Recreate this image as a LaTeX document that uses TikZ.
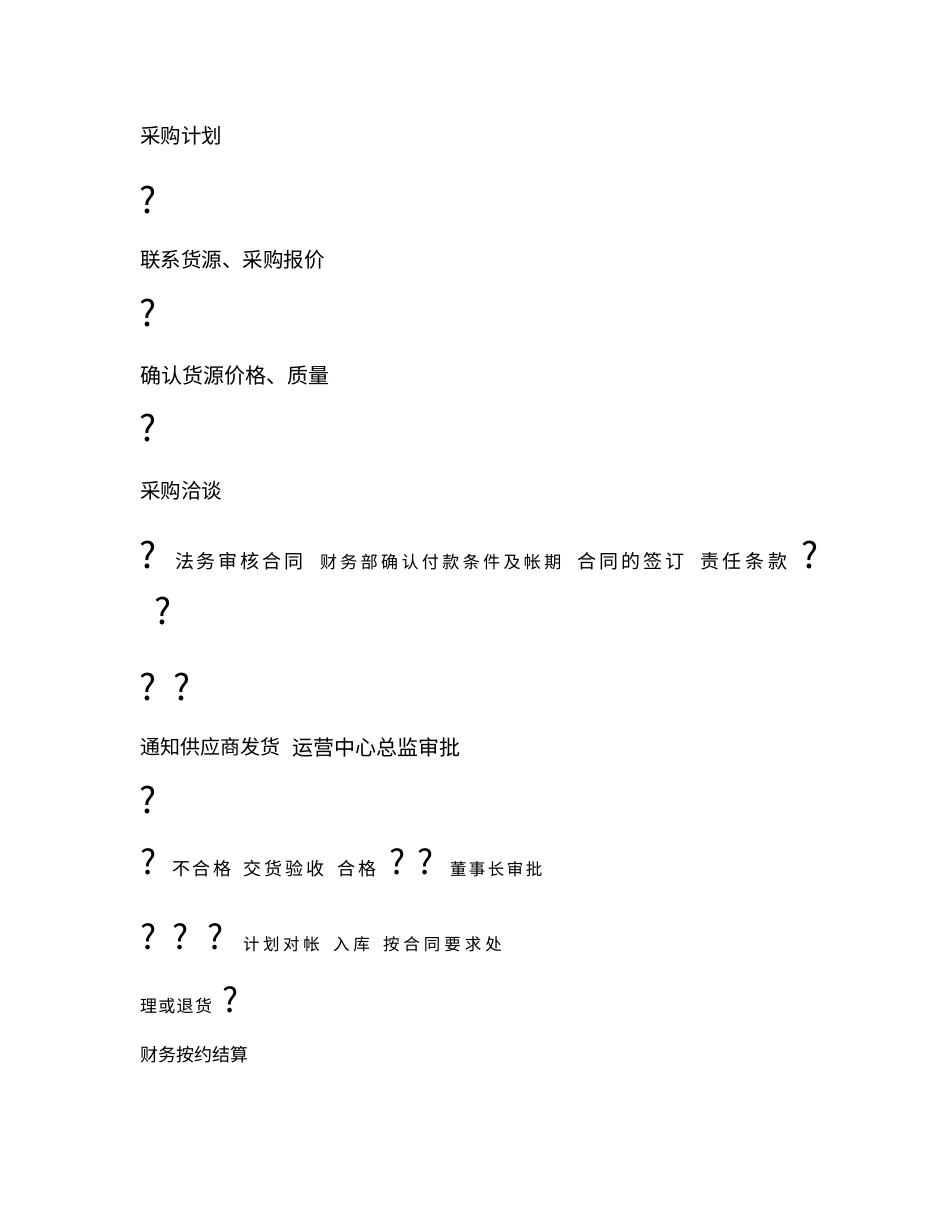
\documentclass[tikz,border=0pt]{standalone}
\usepackage{fontspec}
\setmainfont{Noto Sans CJK SC}
\newcommand{\txt}[3]{\fontsize{#1}{#1}\selectfont\addfontfeature{LetterSpace=#2}#3}
\begin{document}
\begin{tikzpicture}[x=1pt,y=-1pt,
  lbl/.style={anchor=west,inner sep=0pt,outer sep=0pt,text=black},
  qm/.style={anchor=west,inner sep=0pt,outer sep=0pt,text=black,font=\fontsize{36}{36}\selectfont},
  qms/.style={anchor=west,inner sep=0pt,outer sep=0pt,text=black,font=\fontsize{34}{34}\selectfont}]
\path[use as bounding box,fill=white] (0,0) rectangle (950,1230);
% vertical list
\node[lbl] (t1) at (140,135.5) {\txt{20.5}{0}{采购计划}};
\node[qm]  (q1) at (139,200) {?};
\node[lbl] (t2) at (140,260) {\txt{20.5}{0}{联系货源、采购报价}};
\node[qm]  (q2) at (139,313) {?};
\node[lbl] (t3) at (140,376) {\txt{21}{0}{确认货源价格、质量}};
\node[qm]  (q3) at (139,428) {?};
\node[lbl] (t4) at (140,491) {\txt{20.5}{0}{采购洽谈}};
% row 8
\node[qm]  (q4) at (139,555) {?};
\node[lbl] (t5) at (175,561.5) {\txt{19}{15}{法务审核合同}};
\node[lbl] (t6) at (320,562) {\txt{17}{20}{财务部确认付款条件及帐期}};
\node[lbl] (t7) at (577,561.5) {\txt{19}{17}{合同的签订}};
\node[lbl] (t8) at (700,561.5) {\txt{19}{20}{责任条款}};
\node[qm]  (q5) at (801,555) {?};
\node[qm]  (q6) at (154,611) {?};
% row 10
\node[qm]  (q7) at (139,687) {?};
\node[qm]  (q8) at (173,687) {?};
\node[lbl] (t9) at (140,747) {\txt{20}{0}{通知供应商发货}};
\node[lbl] (t10) at (292,747) {\txt{21}{0}{运营中心总监审批}};
\node[qm]  (q9) at (139,800) {?};
% row 862
\node[qms] (q10) at (140,862) {?};
\node[lbl] (t11) at (172,869) {\txt{18}{16}{不合格}};
\node[lbl] (t12) at (243,869) {\txt{18}{18}{交货验收}};
\node[lbl] (t13) at (337,869) {\txt{18}{20}{合格}};
\node[qms] (q11) at (389,862) {?};
\node[qms] (q12) at (417,862) {?};
\node[lbl] (t14) at (450,869) {\txt{16.5}{15}{董事长审批}};
% row 937
\node[qms] (q13) at (140,937) {?};
\node[qms] (q14) at (172,937) {?};
\node[qms] (q15) at (207,937) {?};
\node[lbl] (t15) at (243,944) {\txt{16.5}{22}{计划对帐}};
\node[lbl] (t16) at (333,944) {\txt{16.5}{24}{入库}};
\node[lbl] (t17) at (383,944) {\txt{16.5}{24}{按合同要求处}};
% last rows
\node[lbl] (t18) at (140,1006) {\txt{17}{8}{理或退货}};
\node[qms] (q16) at (222,1000) {?};
\node[lbl] (t19) at (140,1055) {\txt{18}{0}{财务按约结算}};
\end{tikzpicture}
\end{document}
